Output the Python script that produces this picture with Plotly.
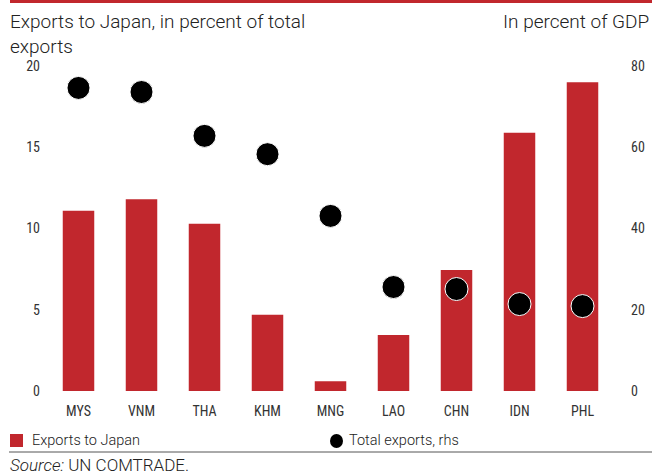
import plotly.graph_objects as go

countries = ['MYS', 'VNM', 'THA', 'KHM', 'MNG', 'LAO', 'CHN', 'IDN', 'PHL']
exports_to_japan = [11.1, 11.8, 10.3, 4.7, 0.6, 3.45, 7.45, 15.9, 19.0]
total_exports_gdp = [74.6, 73.6, 62.8, 58.3, 43.1, 25.6, 25.1, 21.4, 20.9]

RED = '#C1272D'
FONT = 'Roboto'
W, H = 652, 475
L, R, T, B = 47, 38, 66, 84
pw, ph = W - L - R, H - T - B


def px(x):
    return (x - L) / pw


def py(y):
    return (H - B - y) / ph


fig = go.Figure()
fig.add_trace(go.Bar(x=countries, y=exports_to_japan, name='Exports to Japan',
                     marker_color=RED, marker_line_width=0))
fig.add_trace(go.Scatter(x=countries, y=total_exports_gdp, name='Total exports, rhs',
                         mode='markers', yaxis='y2',
                         marker=dict(color='black', size=23, line=dict(color='white', width=1))))

tickfont = dict(family='Liberation Sans Narrow, Roboto Condensed, Roboto', size=14, color='#333')
fig.update_layout(
    width=W, height=H,
    margin=dict(l=L, r=R, t=T, b=B),
    plot_bgcolor='white', paper_bgcolor='white',
    bargap=0.5, showlegend=False,
    font=dict(family=FONT, color='#222'),
    xaxis=dict(range=[-0.5, len(countries) - 0.5], showgrid=False, showline=False, ticks='',
               tickfont=tickfont, ticklabelstandoff=10, automargin=False),
    yaxis=dict(range=[0, 20], dtick=5, showgrid=False, zeroline=False, ticks='',
               tickfont=tickfont, ticklabelstandoff=6, automargin=False),
    yaxis2=dict(range=[0, 80], dtick=20, overlaying='y', side='right', showgrid=False,
                zeroline=False, ticks='', tickfont=tickfont, ticklabelstandoff=16,
                automargin=False),
)

# header and footer
fig.add_shape(type='line', xref='paper', yref='paper', x0=px(10), x1=px(652),
              y0=py(1.5), y1=py(1.5), line=dict(color=RED, width=3))
fig.add_shape(type='line', xref='paper', yref='paper', x0=px(9), x1=px(652),
              y0=py(452), y1=py(452), line=dict(color='#555', width=1))
title_font = dict(size=19, family=FONT, color='#222', weight=300)
fig.add_annotation(xref='paper', yref='paper', x=px(8), y=py(8), xanchor='left', yanchor='top',
                   text='Exports to Japan, in percent of total<br>exports', align='left',
                   showarrow=False, font=title_font)
fig.add_annotation(xref='paper', yref='paper', x=px(651), y=py(8), xanchor='right', yanchor='top',
                   text='In percent of GDP', showarrow=False, font=title_font)

# legend
text_font = dict(size=14.5, family=FONT, color='#222', weight=300)
fig.add_shape(type='rect', xref='paper', yref='paper', x0=px(10), x1=px(23),
              y0=py(434), y1=py(447), fillcolor=RED, line_width=0)
fig.add_annotation(xref='paper', yref='paper', x=px(30), y=py(441), xanchor='left', yanchor='middle',
                   text='Exports to Japan', showarrow=False, font=text_font)
fig.add_shape(type='circle', xref='paper', yref='paper', x0=px(330), x1=px(343),
              y0=py(434), y1=py(448), fillcolor='black', line_width=0)
fig.add_annotation(xref='paper', yref='paper', x=px(347), y=py(441), xanchor='left', yanchor='middle',
                   text='Total exports, rhs', showarrow=False, font=text_font)
fig.add_annotation(xref='paper', yref='paper', x=px(8), y=py(465), xanchor='left', yanchor='middle',
                   text='<i>Source:</i> UN COMTRADE.', showarrow=False,
                   font=dict(size=17, family=FONT, color='#222', weight=300))

fig.write_html('out.html', config={'displayModeBar': False},
               post_script="document.body.style.margin='0';")
